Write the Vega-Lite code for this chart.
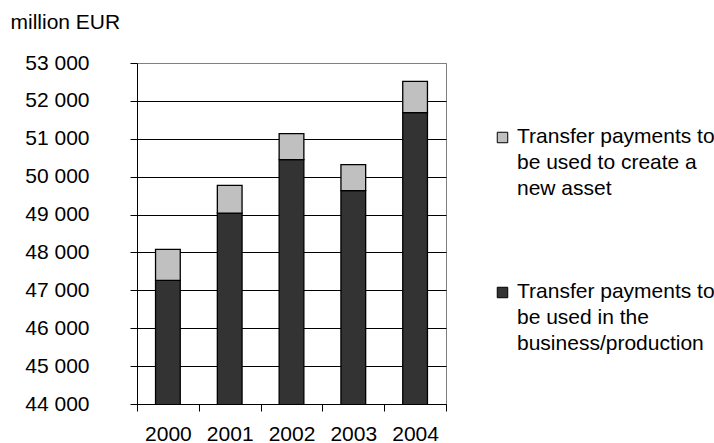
{
  "$schema": "https://vega.github.io/schema/vega-lite/v6.json",
  "width": 309,
  "height": 341,
  "autosize": "none",
  "padding": {"left": 137, "top": 63, "right": 268, "bottom": 39},
  "background": "white",
  "config": {
    "font": "Liberation Sans",
    "view": {"stroke": "#808080", "strokeWidth": 1}
  },
  "data": {
    "values": [
      {"year": "2000", "type": "Transfer payments to be used in the business/production", "value": 47264},
      {"year": "2000", "type": "Transfer payments to be used to create a new asset", "value": 818},
      {"year": "2001", "type": "Transfer payments to be used in the business/production", "value": 49040},
      {"year": "2001", "type": "Transfer payments to be used to create a new asset", "value": 730},
      {"year": "2002", "type": "Transfer payments to be used in the business/production", "value": 50450},
      {"year": "2002", "type": "Transfer payments to be used to create a new asset", "value": 685},
      {"year": "2003", "type": "Transfer payments to be used in the business/production", "value": 49630},
      {"year": "2003", "type": "Transfer payments to be used to create a new asset", "value": 687},
      {"year": "2004", "type": "Transfer payments to be used in the business/production", "value": 51690},
      {"year": "2004", "type": "Transfer payments to be used to create a new asset", "value": 825}
    ]
  },
  "mark": {"type": "bar", "clip": true, "stroke": "black", "strokeWidth": 1.3, "width": {"band": 0.4}},
  "encoding": {
    "x": {
      "field": "year",
      "type": "ordinal",
      "scale": {"paddingInner": 0, "paddingOuter": 0},
      "axis": {
        "title": null,
        "labelAngle": 0,
        "tickBand": "extent",
        "domainColor": "black",
        "tickColor": "black",
        "tickSize": 7,
        "labelFontSize": 21,
        "labelColor": "black",
        "labelPadding": 12,
        "grid": false
      }
    },
    "y": {
      "field": "value",
      "type": "quantitative",
      "stack": "zero",
      "scale": {"domain": [44000, 53000], "zero": false, "nice": false},
      "axis": {
        "values": [44000, 45000, 46000, 47000, 48000, 49000, 50000, 51000, 52000, 53000],
        "format": ",d",
        "labelExpr": "replace(datum.label, ',', ' ')",
        "domainColor": "black",
        "tickColor": "black",
        "tickSize": 7,
        "labelPadding": 41,
        "labelFontSize": 21,
        "labelColor": "black",
        "gridColor": {"condition": {"test": "datum.value == 53000", "value": "#808080"}, "value": "black"},
        "gridOpacity": 1,
        "title": "million EUR",
        "titleAngle": 0,
        "titleAlign": "left",
        "titleBaseline": "alphabetic",
        "titleX": -127,
        "titleY": -35,
        "titleFontSize": 21,
        "titleFontWeight": "normal",
        "titleColor": "black"
      }
    },
    "order": {"field": "type", "sort": "ascending"},
    "color": {
      "field": "type",
      "type": "nominal",
      "scale": {
        "domain": ["Transfer payments to be used to create a new asset", "Transfer payments to be used in the business/production"],
        "range": ["#c0c0c0", "#333333"]
      },
      "legend": {
        "title": null,
        "orient": "none",
        "legendX": 355,
        "legendY": 64,
        "symbolType": "square",
        "symbolSize": 110,
        "symbolStrokeColor": "black",
        "symbolStrokeWidth": 1,
        "labelFontSize": 21,
        "labelColor": "black",
        "labelLimit": 400,
        "labelOffset": 4,
        "rowPadding": 81,
        "labelBaseline": "alphabetic",
        "labelExpr": "indexof(datum.label, 'asset') >= 0 ? ['Transfer payments to', 'be used to create a', 'new asset'] : ['Transfer payments to', 'be used in the', 'business/production']",
        "encode": {"labels": {"update": {"lineHeight": {"value": 26}, "dy": {"value": 5}}}}
      }
    }
  }
}
